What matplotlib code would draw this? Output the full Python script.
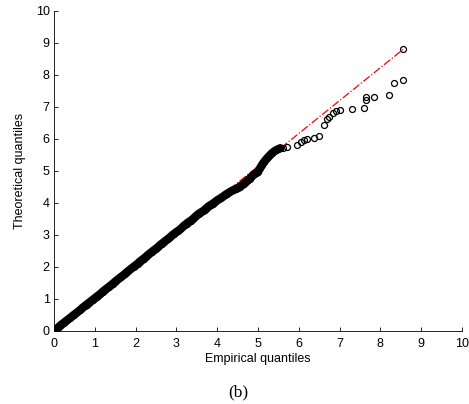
import matplotlib
matplotlib.use("Agg")
import matplotlib.pyplot as plt

plt.rcParams['font.family'] = ['Liberation Sans', 'DejaVu Sans']

# dense body of the qq plot (empirical, theoretical)
emp_body = [0.00, 0.05, 0.10, 0.15, 0.20, 0.25, 0.30, 0.35, 0.40, 0.45,
            0.50, 0.55, 0.60, 0.65, 0.70, 0.75, 0.80, 0.85, 0.90, 0.95,
            1.00, 1.05, 1.10, 1.15, 1.20, 1.25, 1.30, 1.35, 1.40, 1.45,
            1.50, 1.55, 1.60, 1.65, 1.70, 1.75, 1.80, 1.85, 1.90, 1.95,
            2.00, 2.05, 2.10, 2.15, 2.20, 2.25, 2.30, 2.35, 2.40, 2.45,
            2.50, 2.55, 2.60, 2.65, 2.70, 2.75, 2.80, 2.85, 2.90, 2.95,
            3.00, 3.05, 3.10, 3.15, 3.20, 3.25, 3.30, 3.35, 3.40, 3.45,
            3.50, 3.55, 3.60, 3.65, 3.70, 3.75, 3.80, 3.85, 3.90, 3.95,
            4.00, 4.05, 4.10, 4.15, 4.20, 4.25, 4.30, 4.35, 4.40, 4.45,
            4.50, 4.55, 4.60, 4.65, 4.70, 4.75, 4.80, 4.85, 4.90, 4.95,
            5.00, 5.05, 5.10, 5.15, 5.20, 5.25, 5.30, 5.35, 5.40, 5.45,
            5.50, 5.55]
theo_body = [0.00, 0.05, 0.10, 0.16, 0.21, 0.26, 0.31, 0.36, 0.41, 0.46,
             0.51, 0.56, 0.61, 0.66, 0.72, 0.77, 0.82, 0.87, 0.92, 0.97,
             1.02, 1.07, 1.12, 1.17, 1.23, 1.28, 1.33, 1.38, 1.43, 1.48,
             1.54, 1.59, 1.64, 1.69, 1.74, 1.79, 1.85, 1.90, 1.95, 2.00,
             2.05, 2.10, 2.16, 2.21, 2.26, 2.31, 2.37, 2.42, 2.47, 2.52,
             2.57, 2.62, 2.68, 2.73, 2.78, 2.83, 2.88, 2.93, 2.99, 3.04,
             3.09, 3.13, 3.18, 3.24, 3.30, 3.35, 3.40, 3.44, 3.49, 3.55,
             3.61, 3.66, 3.70, 3.74, 3.79, 3.85, 3.90, 3.94, 3.98, 4.03,
             4.08, 4.12, 4.16, 4.20, 4.25, 4.29, 4.33, 4.37, 4.40, 4.43,
             4.46, 4.50, 4.55, 4.60, 4.65, 4.70, 4.76, 4.83, 4.89, 4.92,
             4.98, 5.08, 5.19, 5.28, 5.36, 5.43, 5.50, 5.56, 5.61, 5.65,
             5.68, 5.71]

# sparse upper tail
emp_tail = [5.61, 5.70, 5.95, 6.05, 6.13, 6.19, 6.37, 6.50, 6.62, 6.70,
            6.75, 6.85, 6.91, 7.01, 7.30, 7.61, 7.66, 7.66, 7.84, 8.22,
            8.33, 8.56, 8.56]
theo_tail = [5.72, 5.74, 5.82, 5.91, 5.97, 6.01, 6.03, 6.09, 6.43, 6.62,
             6.68, 6.80, 6.87, 6.91, 6.94, 6.97, 7.22, 7.30, 7.32, 7.38,
             7.76, 7.84, 8.80]

# reference line end points
ref_x = [0.0, 8.56]
ref_y = [0.0, 8.80]

fig = plt.figure(figsize=(4.69, 4.04), dpi=100)
ax = fig.add_axes([0.115, 0.181, 0.870, 0.792])

ax.plot(ref_x, ref_y, color='red', linestyle='-.', linewidth=0.9, zorder=1)
# the body is so dense that the circles merge into a solid band
ax.plot(emp_body, theo_body, '-', color='black', linewidth=6,
        solid_capstyle='round', zorder=2)
ax.plot(emp_body, theo_body, 'o', mfc='none', mec='black', ms=4.3, mew=0.9, zorder=3)
ax.plot(emp_tail, theo_tail, 'o', mfc='none', mec='black', ms=4.3, mew=0.9, zorder=3)

ax.set_xlim(0, 10)
ax.set_ylim(0, 10)
ax.set_xticks(range(0, 11))
ax.set_yticks(range(0, 11))
ax.tick_params(direction='in', length=3, width=0.6, labelsize=9, pad=3)
ax.tick_params(axis='x', pad=5)
ax.spines['top'].set_visible(False)
ax.spines['right'].set_visible(False)
for s in ['left', 'bottom']:
    ax.spines[s].set_linewidth(0.6)

ax.set_xlabel('Empirical quantiles', fontsize=9, labelpad=2)
ax.set_ylabel('Theoretical quantiles', fontsize=9, labelpad=7)

fig.text(0.508, 0.028, '(b)', ha='center', va='center', fontsize=12.5,
         family=['Liberation Serif', 'DejaVu Serif'])

fig.savefig('out.png', dpi=100)
